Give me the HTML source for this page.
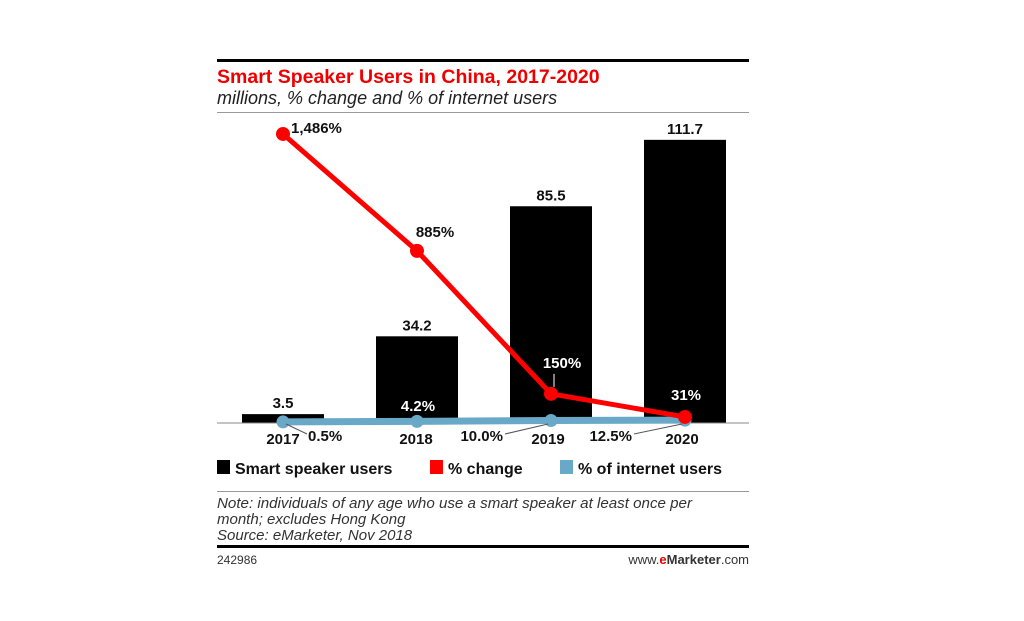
<!DOCTYPE html>
<html><head><meta charset="utf-8"><style>
body{margin:0;background:#fff;width:1024px;height:621px;overflow:hidden;font-family:"Liberation Sans",sans-serif}
svg{position:absolute;left:0;top:0}
</style></head><body>
<svg width="1024" height="621">
<rect x="217" y="59" width="532" height="3" fill="#000"/>
<text x="217" y="83" font-size="19.5" font-weight="bold" fill="#e00">Smart Speaker Users in China, 2017-2020</text>
<text x="217" y="104" font-size="18" font-style="italic" fill="#222">millions, % change and % of internet users</text>
<rect x="217" y="112" width="532" height="1" fill="#999"/>
<g id="plot"></g>
<g font-size="16" font-weight="bold" fill="#111">
<rect x="217" y="460" width="13" height="14" fill="#000"/>
<text x="235" y="474">Smart speaker users</text>
<rect x="430" y="460" width="13" height="14" fill="#f00"/>
<text x="448" y="474">% change</text>
<rect x="560" y="460" width="13" height="14" fill="#6aa8c8"/>
<text x="578" y="474">% of internet users</text>
</g>
<rect x="217" y="491" width="532" height="1" fill="#999"/>
<g font-size="15" font-style="italic" fill="#333">
<text x="217" y="508" textLength="475" lengthAdjust="spacingAndGlyphs">Note: individuals of any age who use a smart speaker at least once per</text>
<text x="217" y="524">month; excludes Hong Kong</text>
<text x="217" y="540">Source: eMarketer, Nov 2018</text>
</g>
<rect x="217" y="545" width="532" height="3" fill="#000"/>
<text x="217" y="564" font-size="12" fill="#333">242986</text>
<text x="749" y="564" font-size="13" fill="#333" text-anchor="end">www.<tspan fill="#e00" font-weight="bold">e</tspan><tspan font-weight="bold">Marketer</tspan>.com</text>
</svg>
<script>
const years=["2017","2018","2019","2020"];
const users=[3.5,34.2,85.5,111.7];
const pctChange=[1486,885,150,31];
const pctInternet=[0.5,4.2,10.0,12.5];
const userLabels=["3.5","34.2","85.5","111.7"];
const changeLabels=["1,486%","885%","150%","31%"];
const internetLabels=["0.5%","4.2%","10.0%","12.5%"];
const NS="http://www.w3.org/2000/svg";
const g=document.getElementById('plot');
const base=423;
const xc=i=>283+i*134;
const yUsers=v=>base-v*2.535;
const yChange=v=>base-v*0.1945;
const yInt=v=>base-1-v*0.15;
function mk(t,a,txt){const e=document.createElementNS(NS,t);for(const k in a)e.setAttribute(k,a[k]);if(txt!==undefined)e.textContent=txt;g.appendChild(e);return e;}
users.forEach((v,i)=>{
 const r=mk('rect',{x:xc(i)-41,y:yUsers(v),width:82,height:base-yUsers(v),fill:'#000'});
 
 
 const t=mk('text',{x:xc(i),y:yUsers(v)-6,'font-size':15,'font-weight':'bold','text-anchor':'middle',fill:'#111'},userLabels[i]);
 
 
});
const ax=mk('line',{x1:217,x2:749,y1:base,y2:base,stroke:'#888','stroke-width':1});


const bl=mk('polyline',{points:pctInternet.map((v,i)=>xc(i)+','+yInt(v)).join(' '),fill:'none',stroke:'#6aa8c8','stroke-width':7});


pctInternet.forEach((v,i)=>{
 const c=mk('circle',{cx:xc(i),cy:yInt(v),r:6.5,fill:'#6aa8c8'});
 
 
});
const rl=mk('polyline',{points:pctChange.map((v,i)=>xc(i)+','+yChange(v)).join(' '),fill:'none',stroke:'#f00','stroke-width':5,'stroke-linejoin':'round'});


pctChange.forEach((v,i)=>{
 const c=mk('circle',{cx:xc(i),cy:yChange(v),r:7,fill:'#f00'});
 
 
});
const cl=[[xc(0)+8,yChange(pctChange[0])-1,'start','#111'],[xc(1)+18,yChange(pctChange[1])-14,'middle','#111'],[xc(2)+11,yChange(pctChange[2])-26,'middle','#fff'],[xc(3)+1,yChange(pctChange[3])-17,'middle','#fff']];
pctChange.forEach((v,i)=>{
 const t=mk('text',{x:cl[i][0],y:cl[i][1],'font-size':15,'font-weight':'bold','text-anchor':cl[i][2],fill:cl[i][3]},changeLabels[i]);
 
 
});
mk('line',{x1:xc(2)+3,y1:yChange(pctChange[2])-20,x2:xc(2)+3,y2:yChange(pctChange[2])-7,stroke:'#fff','stroke-width':1});
years.forEach((y,i)=>{
 const t=mk('text',{x:xc(i)+(i==0?0:(i==1?-1:-3)),y:444,'font-size':15,'font-weight':'bold','text-anchor':'middle',fill:'#111'},y);
 
 
});
const il=[[308,441,'start','#111'],[xc(1)+1,411,'middle','#fff'],[503,441,'end','#111'],[632,441,'end','#111']];
internetLabels.forEach((s,i)=>{
 const t=mk('text',{x:il[i][0],y:il[i][1],'font-size':15,'font-weight':'bold','text-anchor':il[i][2],fill:il[i][3]},s);
 
 
});
mk('line',{x1:xc(0)+3,y1:424,x2:307,y2:434,stroke:'#555','stroke-width':1});
mk('line',{x1:xc(2)-3,y1:424,x2:505,y2:434,stroke:'#555','stroke-width':1});
mk('line',{x1:xc(3)-3,y1:424,x2:634,y2:434,stroke:'#555','stroke-width':1});
</script>
</body></html>
